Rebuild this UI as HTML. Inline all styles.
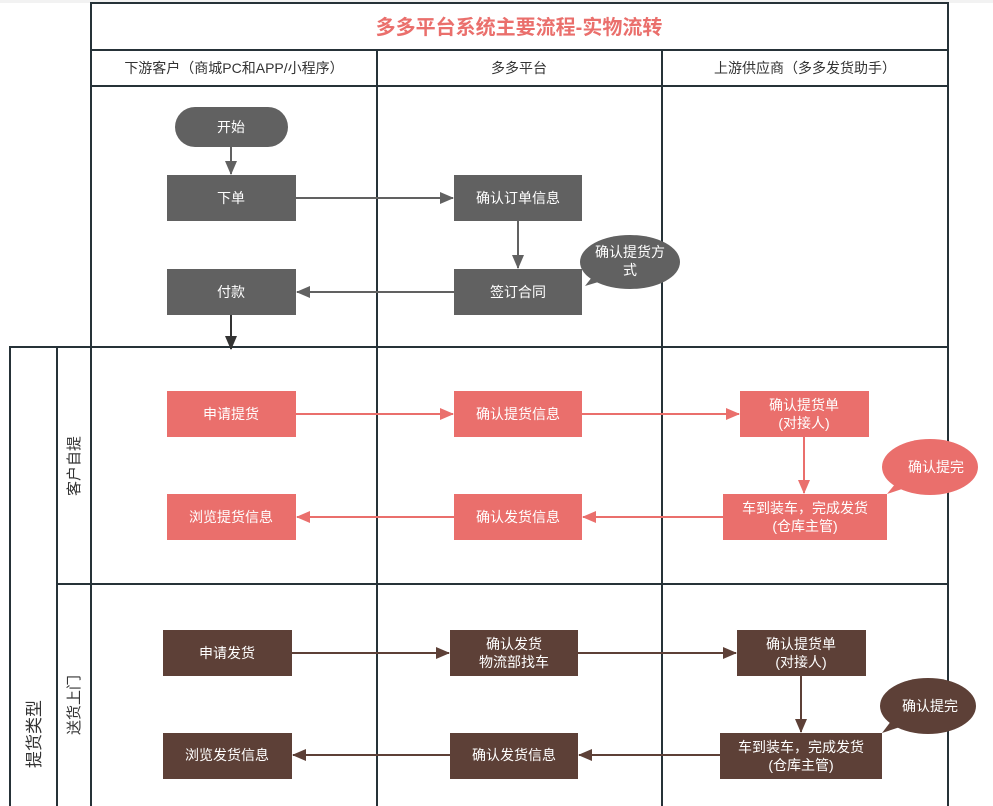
<!DOCTYPE html>
<html><head><meta charset="utf-8"><style>
html,body{margin:0;padding:0;background:#fff;width:993px;height:806px;overflow:hidden}
svg text{font-family:"Liberation Sans","Noto Sans CJK SC",sans-serif}
</style></head><body>
<svg width="993" height="806" viewBox="0 0 993 806" xmlns="http://www.w3.org/2000/svg">
<defs>
<marker id="ag" markerWidth="14" markerHeight="12" refX="13" refY="6" orient="auto" markerUnits="userSpaceOnUse"><path d="M0,0 L14,6 L0,12 z" fill="#616161"/></marker>
<marker id="ak" markerWidth="14" markerHeight="12" refX="13" refY="6" orient="auto" markerUnits="userSpaceOnUse"><path d="M0,0 L14,6 L0,12 z" fill="#333"/></marker>
<marker id="ap" markerWidth="14" markerHeight="12" refX="13" refY="6" orient="auto" markerUnits="userSpaceOnUse"><path d="M0,0 L14,6 L0,12 z" fill="#ea6f6c"/></marker>
<marker id="ab" markerWidth="14" markerHeight="12" refX="13" refY="6" orient="auto" markerUnits="userSpaceOnUse"><path d="M0,0 L14,6 L0,12 z" fill="#5d4037"/></marker>
</defs>
<rect x="0" y="0" width="993" height="3" fill="#f2f2f2"/>
<g stroke="#263238" stroke-width="2" fill="none">
<rect x="91" y="3" width="857" height="810"/>
<line x1="91" y1="50" x2="948" y2="50"/>
<line x1="91" y1="86" x2="948" y2="86"/>
<line x1="377" y1="50" x2="377" y2="806"/>
<line x1="662" y1="50" x2="662" y2="806"/>
<rect x="10" y="347" width="938" height="470"/>
<line x1="57" y1="347" x2="57" y2="806"/>
<line x1="57" y1="584" x2="948" y2="584"/>
</g>
<text x="519" y="34" text-anchor="middle" font-size="20" font-weight="bold" fill="#ea6f6c">多多平台系统主要流程-实物流转</text>
<g font-size="14" fill="#333" text-anchor="middle">
<text x="234" y="73">下游客户（商城PC和APP/小程序）</text>
<text x="519" y="73">多多平台</text>
<text x="805" y="73">上游供应商（多多发货助手）</text>
</g>
<g font-size="15" fill="#333" text-anchor="middle">
<text transform="translate(79,466) rotate(-90)">客户自提</text>
<text transform="translate(79,705) rotate(-90)">送货上门</text>
<text transform="translate(40,734) rotate(-90)" font-size="17">提货类型</text>
</g>
<g stroke-width="2" fill="none">
<line x1="231" y1="147" x2="231" y2="174" stroke="#616161" marker-end="url(#ag)"/>
<line x1="296" y1="198" x2="453" y2="198" stroke="#616161" marker-end="url(#ag)"/>
<line x1="518" y1="221" x2="518" y2="268" stroke="#616161" marker-end="url(#ag)"/>
<line x1="454" y1="292" x2="297" y2="292" stroke="#616161" marker-end="url(#ag)"/>
<line x1="231" y1="315" x2="231" y2="349" stroke="#333" marker-end="url(#ak)"/>
<line x1="296" y1="414" x2="453" y2="414" stroke="#ea6f6c" marker-end="url(#ap)"/>
<line x1="582" y1="414" x2="739" y2="414" stroke="#ea6f6c" marker-end="url(#ap)"/>
<line x1="804" y1="437" x2="804" y2="493" stroke="#ea6f6c" marker-end="url(#ap)"/>
<line x1="723" y1="517" x2="583" y2="517" stroke="#ea6f6c" marker-end="url(#ap)"/>
<line x1="454" y1="517" x2="297" y2="517" stroke="#ea6f6c" marker-end="url(#ap)"/>
<line x1="292" y1="653" x2="449" y2="653" stroke="#5d4037" marker-end="url(#ab)"/>
<line x1="578" y1="653" x2="736" y2="653" stroke="#5d4037" marker-end="url(#ab)"/>
<line x1="801" y1="676" x2="801" y2="732" stroke="#5d4037" marker-end="url(#ab)"/>
<line x1="720" y1="755" x2="579" y2="755" stroke="#5d4037" marker-end="url(#ab)"/>
<line x1="450" y1="755" x2="293" y2="755" stroke="#5d4037" marker-end="url(#ab)"/>
</g>
<g fill="#616161">
<rect x="175" y="107" width="113" height="40" rx="20"/>
<rect x="167" y="175" width="129" height="46"/>
<rect x="167" y="269" width="129" height="46"/>
<rect x="454" y="175" width="128" height="46"/>
<rect x="454" y="269" width="128" height="46"/>
<path d="M585,286 L605,280 L596,272 Z"/>
<ellipse cx="630" cy="262" rx="50" ry="27"/>
</g>
<g fill="#ea6f6c">
<rect x="167" y="391" width="129" height="46"/>
<rect x="454" y="391" width="128" height="46"/>
<rect x="740" y="391" width="129" height="46"/>
<rect x="723" y="494" width="164" height="46"/>
<rect x="167" y="494" width="129" height="46"/>
<rect x="454" y="494" width="128" height="46"/>
<path d="M887,494 L905,488 L900,478 Z"/>
<ellipse cx="930" cy="467" rx="48" ry="28"/>
</g>
<g fill="#5d4037">
<rect x="163" y="630" width="129" height="46"/>
<rect x="450" y="630" width="128" height="46"/>
<rect x="737" y="630" width="129" height="46"/>
<rect x="720" y="733" width="162" height="46"/>
<rect x="163" y="733" width="129" height="46"/>
<rect x="450" y="733" width="128" height="46"/>
<path d="M882,733 L900,727 L895,716 Z"/>
<ellipse cx="928" cy="706" rx="48" ry="28"/>
</g>
<g fill="#fff" font-size="14" text-anchor="middle">
<text x="231" y="132">开始</text>
<text x="231" y="203">下单</text>
<text x="231" y="297">付款</text>
<text x="518" y="203">确认订单信息</text>
<text x="518" y="297">签订合同</text>
<text x="630" y="257">确认提货方</text>
<text x="630" y="275">式</text>
<text x="231" y="419">申请提货</text>
<text x="518" y="419">确认提货信息</text>
<text x="804" y="410">确认提货单</text>
<text x="804" y="428">(对接人)</text>
<text x="805" y="513">车到装车，完成发货</text>
<text x="805" y="531">(仓库主管)</text>
<text x="231" y="522">浏览提货信息</text>
<text x="518" y="522">确认发货信息</text>
<text x="936" y="472">确认提完</text>
<text x="227" y="658">申请发货</text>
<text x="514" y="649">确认发货</text>
<text x="514" y="667">物流部找车</text>
<text x="801" y="649">确认提货单</text>
<text x="801" y="667">(对接人)</text>
<text x="801" y="752">车到装车，完成发货</text>
<text x="801" y="770">(仓库主管)</text>
<text x="227" y="760">浏览发货信息</text>
<text x="514" y="760">确认发货信息</text>
<text x="930" y="711">确认提完</text>
</g>
</svg>
</body></html>
